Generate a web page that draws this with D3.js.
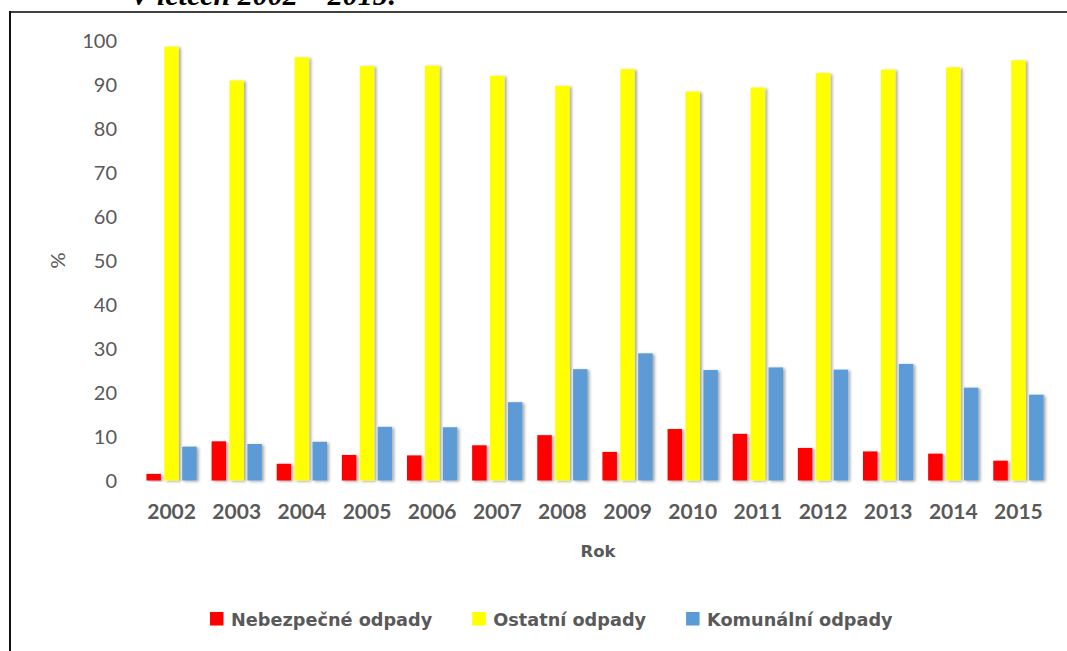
<!DOCTYPE html>
<html>
<head>
<meta charset="utf-8">
<script src="https://cdn.jsdelivr.net/npm/d3@7"></script>
<style>
html,body{margin:0;padding:0;background:#fff;}
svg{display:block;}
</style>
</head>
<body>
<svg id="chart" width="1067" height="651"></svg>
<script>
const years = ["2002","2003","2004","2005","2006","2007","2008","2009","2010","2011","2012","2013","2014","2015"];
const nebezpecne = [1.5, 8.9, 3.8, 5.8, 5.7, 8.0, 10.3, 6.5, 11.7, 10.6, 7.4, 6.6, 6.1, 4.5];
const ostatni = [98.6, 90.9, 96.2, 94.2, 94.3, 92.0, 89.7, 93.5, 88.4, 89.3, 92.6, 93.4, 93.9, 95.5];
const komunalni = [7.7, 8.3, 8.8, 12.2, 12.1, 17.8, 25.3, 28.9, 25.1, 25.7, 25.2, 26.5, 21.1, 19.5];
const seriesNames = ["Nebezpečné odpady", "Ostatní odpady", "Komunální odpady"];
const seriesColors = ["#ff0000", "#ffff00", "#5b9bd5"];
const yTicks = [0,10,20,30,40,50,60,70,80,90,100];
const titleText = "V letech 2002 – 2015:";
const xTitle = "Rok";
const yTitle = "%";

(function(){
const seriesValues = [nebezpecne, ostatni, komunalni];
const svg = d3.select("#chart");
const textColor = "#595959";

const defs = svg.append("defs");
const f = defs.append("filter").attr("id","shadow").attr("x","-50%").attr("y","-10%").attr("width","200%").attr("height","120%");
f.append("feDropShadow").attr("dx",2).attr("dy",1).attr("stdDeviation",1.6).attr("flood-color","#000").attr("flood-opacity",0.35);
const fg = defs.append("filter").attr("id","gshadow").attr("x","-5%").attr("y","-200%").attr("width","110%").attr("height","500%");
fg.append("feDropShadow").attr("dx",1).attr("dy",1).attr("stdDeviation",0.7).attr("flood-color","#000").attr("flood-opacity",0.25);

// frame & title
svg.append("text").attr("x",130).attr("y",5)
  .attr("font-family","Liberation Serif").attr("font-weight","bold").attr("font-style","italic")
  .attr("font-size",30).attr("fill","#000").text(titleText);
svg.append("line").attr("x1",9).attr("x2",1067).attr("y1",12).attr("y2",12).attr("stroke","#000").attr("stroke-width",1.5);
svg.append("line").attr("x1",10).attr("x2",10).attr("y1",11).attr("y2",651).attr("stroke","#111").attr("stroke-width",2);

const pLeft = 139, pRight = 1051, pTop = 40.5, pBottom = 480.5;
const x = d3.scaleBand().domain(years).range([pLeft,pRight]).paddingInner(0).paddingOuter(0);
const xs = d3.scaleBand().domain(d3.range(3)).range([0,x.bandwidth()]).paddingInner(0.19).paddingOuter(0.415);
const y = d3.scaleLinear().domain([0,100]).range([pBottom,pTop]);

// gridlines
const grid = svg.append("g").attr("transform",`translate(${pLeft},0)`)
  .call(d3.axisLeft(y).tickValues(yTicks).tickSize(-(pRight-pLeft)).tickFormat(""));
grid.select(".domain").remove();
grid.selectAll(".tick line").attr("stroke", d => d===0 ? "#c8c8c8" : "#d4d4d4").attr("stroke-width",1.3).attr("filter","url(#gshadow)");

// y labels
const ya = svg.append("g").attr("transform",`translate(117,0)`)
  .call(d3.axisLeft(y).tickValues(yTicks).tickSize(0).tickPadding(0));
ya.select(".domain").remove();
ya.selectAll("text").attr("font-family","Lato").attr("font-size",20).attr("fill",textColor).attr("dy","0.35em");

// bars
const groups = svg.append("g").selectAll("g").data(years).join("g")
  .attr("transform", d => `translate(${x(d)},0)`);
groups.selectAll("rect").data((d,i) => seriesValues.map((s,k) => ({k, v: s[i]}))).join("rect")
  .attr("x", d => xs(d.k)).attr("width", xs.bandwidth())
  .attr("y", d => y(d.v)).attr("height", d => y(0) - y(d.v))
  .attr("fill", d => seriesColors[d.k]).attr("filter","url(#shadow)");

// x labels
const xa = svg.append("g").attr("transform",`translate(0,${pBottom})`)
  .call(d3.axisBottom(x).tickSize(0).tickPadding(0));
xa.select(".domain").remove();
xa.selectAll("text").attr("font-family","Lato").attr("font-weight","bold").attr("font-size",21)
  .attr("fill",textColor).attr("dy",null).attr("y",38.5);

// axis titles
svg.append("text").attr("x",(pLeft+pRight)/2 + 3).attr("y",557).attr("text-anchor","middle")
  .attr("font-family","DejaVu Sans").attr("font-weight","bold").attr("font-size",16.5).attr("fill",textColor).text(xTitle);
svg.append("text").attr("transform","translate(65,260.5) rotate(-90)").attr("text-anchor","middle")
  .attr("font-family","Lato").attr("font-size",20).attr("fill",textColor).text(yTitle);

// legend
const lg = svg.append("g");
let cx = 210;
seriesNames.forEach((name,k) => {
  lg.append("rect").attr("x",cx).attr("y",612).attr("width",13.5).attr("height",13.5).attr("fill",seriesColors[k]);
  const t = lg.append("text").attr("x",cx+21).attr("y",625.5)
    .attr("font-family","DejaVu Sans").attr("font-weight","bold").attr("font-size",17.7).attr("fill",textColor).text(name);
  cx += 21 + t.node().getComputedTextLength() + 40;
});
})();
</script>
</body>
</html>
